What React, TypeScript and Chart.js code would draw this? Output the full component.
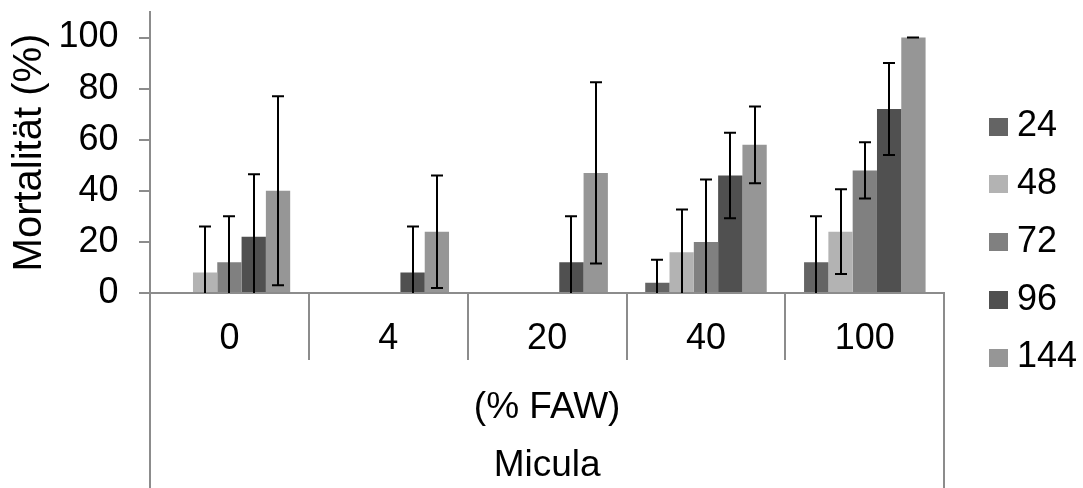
import React, { useEffect, useRef } from 'react';
import { Chart, registerables } from 'chart.js';

Chart.register(...registerables);

const categories = ['0', '4', '20', '40', '100'];
const seriesLabels = ['24', '48', '72', '96', '144'];
const values24 = [0, 0, 0, 4, 12];
const values48 = [8, 0, 0, 16, 24];
const values72 = [12, 0, 0, 20, 48];
const values96 = [22, 8, 12, 46, 72];
const values144 = [40, 24, 47, 58, 100];
const err24 = [0, 0, 0, 9, 18];
const err48 = [18, 0, 0, 16.7, 16.6];
const err72 = [18, 0, 0, 24.4, 11];
const err96 = [24.5, 18, 18, 16.7, 18];
const err144 = [37, 22, 35.5, 15, 0];
const colors = ['#646464', '#b3b3b3', '#808080', '#505050', '#969696'];
const yMin = 0;
const yMax = 110;
const yStep = 20;
const yLastTick = 100;
const yTitle = 'Mortalität (%)';
const xTitle = ['(% FAW)', 'Micula'];

const valueSeries = [values24, values48, values72, values96, values144];
const errSeries = [err24, err48, err72, err96, err144];

const AXIS = '#8c8c8c';
const FONT = "'Liberation Sans', Arial, sans-serif";
const TICK_SIZE = 36;

const errorBarPlugin = {
  id: 'errorBars',
  afterDatasetsDraw(chart: any) {
    const ctx = chart.ctx;
    const y = chart.scales.y;
    chart.data.datasets.forEach((ds: any, i: number) => {
      const meta = chart.getDatasetMeta(i);
      meta.data.forEach((bar: any, j: number) => {
        const v = ds.data[j];
        const e = ds.errors[j];
        if (!v && !e) return;
        const top = y.getPixelForValue(v + e);
        const low = v - e;
        const bot = y.getPixelForValue(Math.max(0, low));
        const x = Math.round(bar.x);
        ctx.save();
        ctx.strokeStyle = '#000';
        ctx.lineWidth = 2;
        ctx.beginPath();
        ctx.moveTo(x, top);
        ctx.lineTo(x, bot);
        ctx.moveTo(x - 6, top);
        ctx.lineTo(x + 6, top);
        if (low >= 0) {
          ctx.moveTo(x - 6, bot);
          ctx.lineTo(x + 6, bot);
        }
        ctx.stroke();
        ctx.restore();
      });
    });
  },
};

const edgePlugin = {
  id: 'edgeLines',
  afterDraw(chart: any) {
    const { ctx, chartArea } = chart;
    ctx.save();
    ctx.strokeStyle = AXIS;
    ctx.lineWidth = 2;
    ctx.beginPath();
    [chartArea.left, chartArea.right].forEach((px: number) => {
      const x = Math.round(px);
      ctx.moveTo(x, chartArea.bottom);
      ctx.lineTo(x, chart.height);
    });
    ctx.stroke();
    ctx.restore();
  },
};

const noPad = (s: any) => {
  s.paddingTop = 0;
  s.paddingBottom = 0;
  s.paddingLeft = 0;
  s.paddingRight = 0;
};

export default function App() {
  const ref = useRef<HTMLCanvasElement>(null);
  useEffect(() => {
    document.body.style.margin = '0';
    const swatches = colors.map((c) => {
      const cv = document.createElement('canvas');
      cv.width = 19;
      cv.height = 18;
      const g = cv.getContext('2d')!;
      g.fillStyle = c;
      g.fillRect(0, 0, 19, 18);
      return cv;
    });
    Chart.defaults.font.family = FONT;
    const chart = new Chart(ref.current!, {
      type: 'bar',
      data: {
        labels: categories,
        datasets: seriesLabels.map((label, i) => ({
          label,
          data: valueSeries[i],
          errors: errSeries[i],
          backgroundColor: colors[i],
          borderWidth: 0,
          xAxisID: 'x',
          yAxisID: 'y',
          categoryPercentage: 0.765,
          barPercentage: 1,
        })) as any,
      },
      options: {
        responsive: false,
        animation: false,
        devicePixelRatio: 1,
        events: [],
        layout: { padding: { top: 12, bottom: 16, left: 0, right: 0 } },
        plugins: {
          tooltip: { enabled: false },
          legend: {
            position: 'right',
            maxWidth: 106.75,
            labels: {
              usePointStyle: true,
              boxWidth: 1,
              boxHeight: 18,
              padding: 21.75,
              color: '#000',
              font: { size: TICK_SIZE, family: FONT },
              generateLabels: (ch: any) => {
                const items = (Chart.defaults.plugins.legend.labels as any).generateLabels(ch);
                items.forEach((it: any, i: number) => {
                  it.pointStyle = swatches[i];
                });
                return items;
              },
            },
          },
        },
        scales: {
          x: {
            type: 'category',
            position: 'bottom',
            grid: {
              display: true,
              offset: true,
              drawOnChartArea: false,
              drawTicks: true,
              tickLength: 67,
              color: AXIS,
              lineWidth: 2,
            },
            border: { display: true, color: AXIS, width: 2 },
            ticks: {
              color: '#000',
              font: { size: TICK_SIZE, family: FONT },
              padding: -43,
              maxRotation: 0,
              autoSkip: false,
            },
            title: {
              display: true,
              text: xTitle,
              color: '#000',
              font: { size: 37, family: FONT, lineHeight: 58 / 37 },
              padding: { top: 0, bottom: -23 },
            },
            afterFit: (s: any) => {
              s.height = 179;
              noPad(s);
            },
          },
          y: {
            type: 'linear',
            position: 'left',
            min: yMin,
            max: yMax,
            grid: {
              display: true,
              drawOnChartArea: false,
              drawTicks: true,
              tickLength: 11,
              color: AXIS,
              lineWidth: 2,
            },
            border: { display: true, color: AXIS, width: 2 },
            ticks: {
              stepSize: yStep,
              includeBounds: false,
              color: '#000',
              font: { size: TICK_SIZE, family: FONT },
              padding: 20.5,
            },
            afterBuildTicks: (s: any) => {
              s.ticks = s.ticks.filter((t: any) => t.value <= yLastTick);
            },
            title: {
              display: true,
              text: yTitle,
              color: '#000',
              font: { size: 40, family: FONT, lineHeight: 1.2 },
              padding: { top: 6, bottom: 0 },
            },
            afterFit: (s: any) => {
              s.width = 150;
              noPad(s);
            },
          },
          yR: {
            type: 'linear',
            position: 'right',
            display: true,
            grid: { display: false },
            border: { display: false },
            ticks: { display: false },
            afterFit: (s: any) => {
              s.width = 32;
              noPad(s);
            },
          },
        },
      } as any,
      plugins: [errorBarPlugin, edgePlugin],
    });
    return () => chart.destroy();
  }, []);
  return (
    <div style={{ position: 'absolute', left: 0, top: 0, width: 1083, height: 488 }}>
      <canvas ref={ref} width={1083} height={488} style={{ display: 'block', width: 1083, height: 488 }} />
    </div>
  );
}
